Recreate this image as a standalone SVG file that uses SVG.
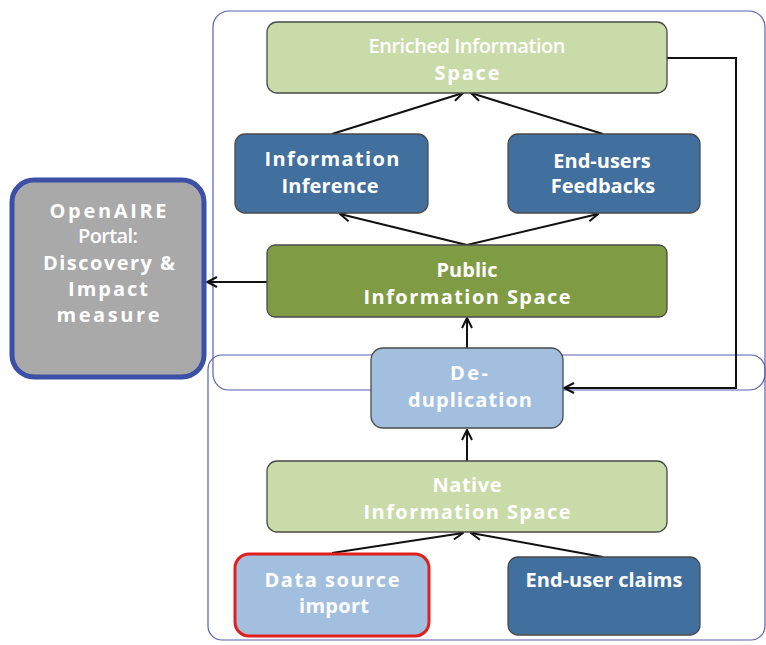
<svg xmlns="http://www.w3.org/2000/svg" width="766" height="645" viewBox="0 0 766 645">
  <defs>
    <marker id="arrow" viewBox="0 0 12 12" refX="11" refY="6" markerWidth="12" markerHeight="12" markerUnits="userSpaceOnUse" orient="auto">
      <path d="M1,1 L11,6 L1,11" fill="none" stroke="#111" stroke-width="2"/>
    </marker>
    <style>
      .frame { fill: none; stroke: #5a5fb0; stroke-width: 1.2; }
      .box { stroke: #4a4a4a; stroke-width: 1.3; }
      .light { fill: #c9dba8; }
      .olive { fill: #7f9c45; }
      .blue { fill: #41709f; }
      .pale { fill: #a3bfdf; }
      text { font-family: "Open Sans", "Liberation Sans", sans-serif; fill: #ffffff; text-anchor: middle; font-size: 20px; font-weight: bold; }
      .m { font-weight: 600; }
      .edge { fill: none; stroke: #111; stroke-width: 2; marker-end: url(#arrow); }
    </style>
  </defs>
  <rect width="766" height="645" fill="#ffffff"/>

  <!-- grouping frames -->
  <g id="frames">
    <rect class="frame" x="213" y="11" width="552" height="379" rx="16"/>
    <rect class="frame" x="208" y="355" width="557" height="285" rx="14"/>
  </g>

  <!-- connectors -->
  <g id="connectors">
    <line class="edge" x1="332" y1="134" x2="463" y2="93"/>
    <line class="edge" x1="603" y1="134" x2="471" y2="93"/>
    <line class="edge" x1="467" y1="245" x2="340" y2="214"/>
    <line class="edge" x1="467" y1="245" x2="598" y2="214"/>
    <line class="edge" x1="267" y1="282" x2="207" y2="282"/>
    <line class="edge" x1="467" y1="348" x2="467" y2="318"/>
    <line class="edge" x1="467" y1="461" x2="467" y2="430"/>
    <line class="edge" x1="332" y1="553" x2="463" y2="533"/>
    <line class="edge" x1="603" y1="557" x2="471" y2="533"/>
    <polyline class="edge" points="667,58 736,58 736,388 564,388"/>
  </g>

  <g id="enriched">
    <rect class="box light" x="267" y="22" width="400" height="71" rx="10"/>
    <text class="m" x="467" y="53" font-size="18.5" textLength="197" lengthAdjust="spacing">Enriched Information</text>
    <text x="467" y="80" textLength="65" lengthAdjust="spacing">Space</text>
  </g>

  <g id="inference">
    <rect class="box blue" x="235" y="134" width="193" height="79" rx="10"/>
    <text x="332" y="166" textLength="135" lengthAdjust="spacing">Information</text>
    <text x="330" y="193" textLength="97" lengthAdjust="spacing">Inference</text>
  </g>

  <g id="feedbacks">
    <rect class="box blue" x="508" y="134" width="192" height="79" rx="10"/>
    <text x="602" y="168" font-size="18">End-users</text>
    <text x="603" y="193" font-size="18">Feedbacks</text>
  </g>

  <g id="public">
    <rect class="box olive" x="267" y="245" width="400" height="72" rx="8"/>
    <text x="467" y="277" font-size="17">Public</text>
    <text x="467" y="304" textLength="207" lengthAdjust="spacing">Information Space</text>
  </g>

  <g id="portal">
    <rect x="12" y="180" width="192" height="197" rx="22" fill="#a9a9a9" stroke="#3b4fa6" stroke-width="5"/>
    <text x="108" y="218" textLength="117" lengthAdjust="spacing">OpenAIRE</text>
    <text class="m" x="108" y="243" font-size="18" textLength="60" lengthAdjust="spacing">Portal:</text>
    <text x="109" y="270" textLength="132" lengthAdjust="spacing">Discovery &amp;</text>
    <text x="108" y="296" textLength="80" lengthAdjust="spacing">Impact</text>
    <text x="108" y="322" textLength="103" lengthAdjust="spacing">measure</text>
  </g>

  <g id="dedup">
    <rect class="box pale" x="371" y="348" width="192" height="80" rx="12"/>
    <text x="469" y="380" textLength="38" lengthAdjust="spacing">De-</text>
    <text x="470" y="407" textLength="124" lengthAdjust="spacing">duplication</text>
  </g>

  <g id="native">
    <rect class="box light" x="267" y="461" width="400" height="71" rx="10"/>
    <text x="467" y="492" textLength="69" lengthAdjust="spacing">Native</text>
    <text x="467" y="519" textLength="207" lengthAdjust="spacing">Information Space</text>
  </g>

  <g id="datasource">
    <rect x="235" y="554" width="194" height="82" rx="14" fill="#a3bfdf" stroke="#e0201e" stroke-width="3"/>
    <text x="332" y="587" textLength="135" lengthAdjust="spacing">Data source</text>
    <text x="334" y="613" textLength="70" lengthAdjust="spacing">import</text>
  </g>

  <g id="claims">
    <rect class="box blue" x="508" y="557" width="192" height="78" rx="10"/>
    <text x="604" y="587" font-size="18">End-user claims</text>
  </g>
</svg>
